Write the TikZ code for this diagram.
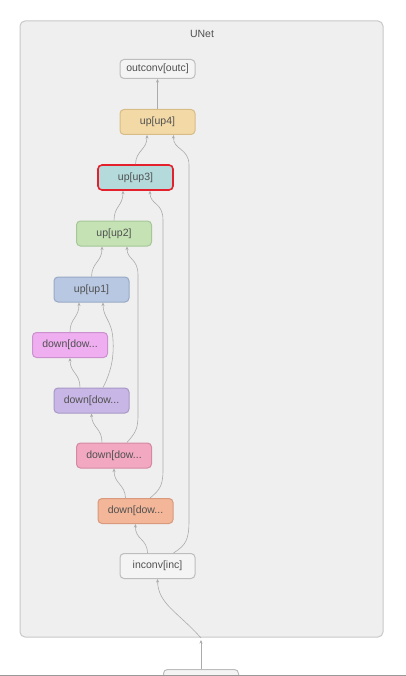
\documentclass[tikz,border=0pt]{standalone}
\usepackage{fontspec}
\setmainfont{Liberation Sans}
\usetikzlibrary{arrows.meta}
\definecolor{boxfill}{HTML}{EFEFEF}
\definecolor{boxdraw}{HTML}{C8C8C8}
\definecolor{txt}{HTML}{505050}
\definecolor{edge}{HTML}{ABABAB}
\definecolor{plainfill}{HTML}{F4F4F4}
\definecolor{plaindraw}{HTML}{BDBDBD}
\definecolor{upfourfill}{HTML}{F3D9A6}
\definecolor{upfourdraw}{HTML}{D8BC88}
\definecolor{upthreefill}{HTML}{B5DADC}
\definecolor{upthreedraw}{HTML}{E3202C}
\definecolor{uptwofill}{HTML}{C4E2B4}
\definecolor{uptwodraw}{HTML}{A6C797}
\definecolor{uponefill}{HTML}{B8C8E2}
\definecolor{uponedraw}{HTML}{98A9C5}
\definecolor{dfourfill}{HTML}{EEAEF0}
\definecolor{dfourdraw}{HTML}{CC90CF}
\definecolor{dthreefill}{HTML}{C8B7E6}
\definecolor{dthreedraw}{HTML}{A898C6}
\definecolor{dtwofill}{HTML}{F2A8C0}
\definecolor{dtwodraw}{HTML}{D489A3}
\definecolor{donefill}{HTML}{F3B699}
\definecolor{donedraw}{HTML}{D8997C}
\tikzset{
  layer/.style={rounded corners=4pt, line width=1pt, minimum width=75pt,
    minimum height=25pt, inner sep=0pt, font=\fontsize{10.5pt}{12pt}\selectfont,
    text=txt},
  conn/.style={draw=edge, line width=0.6pt, -{Stealth[length=3.5pt,width=3pt]}},
}
\begin{document}
\begin{tikzpicture}[x=1pt,y=-1pt]
\useasboundingbox (0,0) rectangle (406,676);
\fill[white] (0,0) rectangle (406,676);
% outer container
\draw[fill=boxfill, draw=boxdraw, line width=1pt, rounded corners=5pt]
  (20,21) rectangle (383,637);
\node[text=txt, font=\fontsize{10.5pt}{12pt}\selectfont] (title) at (202,34) {UNet};
% nodes
\node[layer, fill=plainfill, draw=plaindraw, minimum height=19pt] (outc) at (157.5,69) {outconv[outc]};
\node[layer, fill=upfourfill, draw=upfourdraw] (up4) at (157.5,122) {up[up4]};
\node[layer, fill=upthreefill, draw=upthreedraw, line width=1.6pt] (up3) at (135.5,177.5) {up[up3]};
\node[layer, fill=uptwofill, draw=uptwodraw] (up2) at (114,233.5) {up[up2]};
\node[layer, fill=uponefill, draw=uponedraw] (up1) at (91.5,289.5) {up[up1]};
\node[layer, fill=dfourfill, draw=dfourdraw] (d4) at (70,345) {down[dow...};
\node[layer, fill=dthreefill, draw=dthreedraw] (d3) at (91.5,400.5) {down[dow...};
\node[layer, fill=dtwofill, draw=dtwodraw] (d2) at (114,455.5) {down[dow...};
\node[layer, fill=donefill, draw=donedraw] (d1) at (135.5,511) {down[dow...};
\node[layer, fill=plainfill, draw=plaindraw] (inc) at (157.5,566) {inconv[inc]};
\node[layer, fill=plainfill, draw=plaindraw, anchor=north] (inp) at (201,669) {};
\coordinate (boxin) at (201,638);
% bottom edge line
\draw[draw=gray!80, line width=1pt] (0,675.5) -- (406,675.5);
% edges
\draw[conn] (inp.north) -- ([yshift=-2pt]boxin);
\draw[conn] (boxin) .. controls (178,612) and (158,604) .. (inc.south);
\draw[conn] ([xshift=-10pt]inc.north) .. controls (147,538) and (135,540) .. (d1.south);
\draw[conn] ([xshift=16pt]inc.north) .. controls (186,545) and (189,540) .. (189,520)
  -- (189,165) .. controls (189,148) and (173,150) .. ([xshift=16pt]up4.south);
\draw[conn] ([xshift=-10pt]d1.north) .. controls (125,484) and (114,484) .. (d2.south);
\draw[conn] ([xshift=14.5pt]d1.north) .. controls (160,490) and (163,485) .. (163,470)
  -- (163,220) .. controls (163,202) and (150,205) .. ([xshift=14.5pt]up3.south);
\draw[conn] ([xshift=-12pt]d2.north) .. controls (102,428) and (92,428) .. (d3.south);
\draw[conn] ([xshift=13pt]d2.north) .. controls (135,433) and (138,430) .. (138,415)
  -- (138,275) .. controls (138,258) and (127,260) .. ([xshift=13pt]up2.south);
\draw[conn] ([xshift=-11.5pt]d3.north) .. controls (80,373) and (70,373) .. (d4.south);
\draw[conn] ([xshift=11.5pt]d3.north) .. controls (112,370) and (114,355) .. (113,340)
  .. controls (112,320) and (103,318) .. ([xshift=11.5pt]up1.south);
\draw[conn] (d4.north) .. controls (70,318) and (79,318) .. ([xshift=-12.5pt]up1.south);
\draw[conn] (up1.north) .. controls (92,262) and (102,262) .. ([xshift=-12pt]up2.south);
\draw[conn] (up2.north) .. controls (114,206) and (123,206) .. ([xshift=-12.5pt]up3.south);
\draw[conn] (up3.north) .. controls (136,150) and (147,150) .. ([xshift=-10.5pt]up4.south);
\draw[conn] (up4.north) -- (outc.south);
\end{tikzpicture}
\end{document}
